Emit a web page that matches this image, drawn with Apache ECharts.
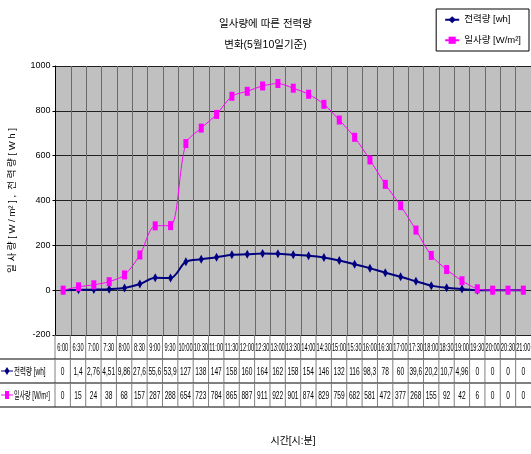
<!DOCTYPE html>
<html>
<head>
<meta charset="utf-8">
<script src="https://cdn.jsdelivr.net/npm/echarts@6/dist/echarts.min.js"></script>
<style>
    html, body { margin: 0; padding: 0; background: #fff; }
    #chart { width: 531px; height: 454px; }
</style>
</head>
<body>
<div id="chart"></div>
<script>
const TIMES = ['6:00', '6:30', '7:00', '7:30', '8:00', '8:30', '9:00', '9:30', '10:00', '10:30',
    '11:00', '11:30', '12:00', '12:30', '13:00', '13:30', '14:00', '14:30', '15:00', '15:30',
    '16:00', '16:30', '17:00', '17:30', '18:00', '18:30', '19:00', '19:30', '20:00', '20:30', '21:00'];
const POWER = [0, 1.4, 2.76, 4.51, 9.86, 27.6, 55.6, 53.9, 127, 138,
    147, 158, 160, 164, 162, 158, 154, 146, 132, 116,
    98.3, 78, 60, 39.6, 20.2, 10.7, 4.96, 0, 0, 0, 0];
const INSOLATION = [0, 15, 24, 38, 68, 157, 287, 288, 654, 723,
    784, 865, 887, 911, 922, 901, 874, 829, 759, 682,
    581, 472, 377, 268, 155, 92, 42, 6, 0, 0, 0];
const SERIES_NAMES = ['전력량 [wh]', '일사량 [W/m²]'];
const TABLE_ROWS = ['time', 'power', 'insolation'];

const LATIN = "'Liberation Sans', 'DejaVu Sans', sans-serif";
const KR = "'Liberation Sans', 'Noto Sans CJK KR', sans-serif";
const COLORS = {power: '#000080', insolation: '#ff00ff'};

const fmt = (v) => String(v).replace('.', ',');

// one entry per table cell
const cells = [];
TIMES.forEach((t, i) => {
    cells.push({value: [i, 0], text: t});
    cells.push({value: [i, 1], text: fmt(POWER[i])});
    cells.push({value: [i, 2], text: fmt(INSOLATION[i])});
});

function narrowText(text, x, y, size, family, align, sx) {
    return {
        type: 'text', x: x, y: y, scaleX: sx,
        style: {text: text, x: 0, y: 0, align: align, verticalAlign: 'middle',
            fontSize: size, fontFamily: family, fill: '#000'},
    };
}

function renderCell(params, api) {
    const cell = cells[params.dataIndex];
    const col = cell.value[0], row = cell.value[1];
    const c = api.coord([col, row]);
    const s = api.size([1, 1]);
    const x0 = c[0] - s[0] / 2, y0 = c[1] - s[1] / 2;
    const children = [
        {type: 'line', shape: {x1: x0, y1: y0, x2: x0, y2: y0 + s[1]}, style: {stroke: '#808080', lineWidth: 1}},
        {type: 'line', shape: {x1: col === 0 ? 0 : x0, y1: y0 + s[1], x2: x0 + s[0], y2: y0 + s[1]}, style: {stroke: '#000', lineWidth: 1}},
        row === 0
            ? narrowText(cell.text, c[0], c[1] + 1, 10, LATIN, 'center', 0.57)
            : narrowText(cell.text, c[0], c[1] + 1, 11, LATIN, 'center', 0.6),
    ];
    // row header with legend key
    if (col === 0 && row > 0) {
        const color = row === 1 ? COLORS.power : COLORS.insolation;
        const ky = c[1];
        children.push({type: 'line', shape: {x1: 1, y1: ky, x2: 13, y2: ky}, style: {stroke: color, lineWidth: 1}});
        if (row === 1) {
            children.push({type: 'polygon', shape: {points: [[7, ky - 4], [9.5, ky], [7, ky + 4], [4.5, ky]]}, style: {fill: color}});
        } else {
            children.push({type: 'rect', shape: {x: 5, y: ky - 4, width: 4, height: 8}, style: {fill: color}});
        }
        children.push(narrowText(SERIES_NAMES[row - 1], 14, ky + 1, 10, KR, 'left', row === 1 ? 0.65 : 0.6));
    }
    return {type: 'group', children: children};
}

const chart = echarts.init(document.getElementById('chart'));
chart.setOption({
    animation: false,
    title: {
        text: '일사량에 따른 전력량\n변화(5월10일기준)',
        left: 'center',
        top: 9,
        textStyle: {fontSize: 10.5, fontWeight: 'normal', fontFamily: KR, color: '#000', lineHeight: 21},
    },
    legend: {
        data: SERIES_NAMES,
        orient: 'vertical',
        right: 2,
        top: 9,
        itemWidth: 14,
        itemHeight: 9,
        itemGap: 11,
        padding: [6, 8, 6, 8],
        borderColor: '#000',
        borderWidth: 1,
        backgroundColor: '#fff',
        textStyle: {fontSize: 9.5, fontFamily: KR, color: '#000'},
    },
    grid: [
        {left: 55, top: 66, width: 479, height: 269, backgroundColor: '#c0c0c0', show: true, borderWidth: 0},
        {left: 55, top: 335, width: 479, height: 72},
    ],
    xAxis: [
        {
            type: 'category', gridIndex: 0, data: TIMES, boundaryGap: true,
            axisLine: {show: false}, axisTick: {show: false}, axisLabel: {show: false},
            splitLine: {show: true, interval: 0, lineStyle: {color: '#6a6a6a', width: 1}},
        },
        {
            type: 'category', gridIndex: 1, data: TIMES, boundaryGap: true,
            axisLine: {show: false}, axisTick: {show: false}, axisLabel: {show: false},
            name: '시간[시:분]', nameLocation: 'middle', nameGap: 29,
            nameTextStyle: {fontSize: 10, fontFamily: KR, color: '#000'},
        },
    ],
    yAxis: [
        {
            type: 'value', gridIndex: 0, min: -200, max: 1000, interval: 200,
            axisLine: {show: true, lineStyle: {color: '#000'}},
            axisTick: {show: true, length: 3, lineStyle: {color: '#000'}},
            axisLabel: {fontSize: 9, fontFamily: LATIN, color: '#000', margin: 5, formatter: (v) => String(v)},
            splitLine: {show: true, lineStyle: {color: '#202020', width: 1}},
            name: '일 사 량 [ W / m² ] ,  전 력 량 [ W h ]',
            nameLocation: 'middle', nameGap: 38,
            nameTextStyle: {fontSize: 9.5, fontFamily: KR, color: '#000'},
        },
        {
            type: 'category', gridIndex: 1, data: TABLE_ROWS, inverse: true,
            axisLine: {show: false}, axisTick: {show: false}, axisLabel: {show: false},
        },
    ],
    series: [
        {
            name: SERIES_NAMES[0], type: 'line', xAxisIndex: 0, yAxisIndex: 0,
            data: POWER, smooth: 0.3, z: 3,
            symbol: 'diamond', symbolSize: [5, 9],
            lineStyle: {color: COLORS.power, width: 2},
            itemStyle: {color: COLORS.power},
        },
        {
            name: SERIES_NAMES[1], type: 'line', xAxisIndex: 0, yAxisIndex: 0,
            data: INSOLATION, smooth: 0.3, z: 4,
            symbol: 'rect', symbolSize: [5, 9],
            lineStyle: {color: COLORS.insolation, width: 1},
            itemStyle: {color: COLORS.insolation},
        },
        {
            type: 'custom', xAxisIndex: 1, yAxisIndex: 1,
            data: cells, renderItem: renderCell, silent: true,
        },
    ],
});
</script>
</body>
</html>
